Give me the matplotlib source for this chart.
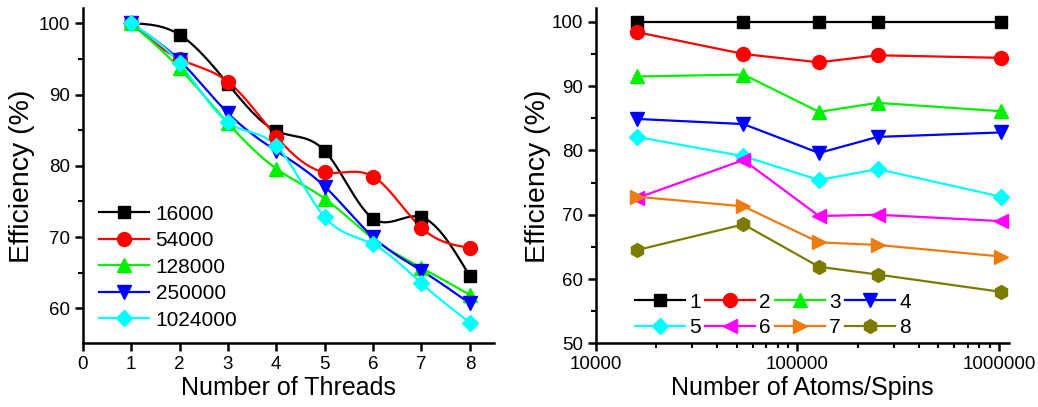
import numpy as np
import matplotlib
matplotlib.use("Agg")
import matplotlib.pyplot as plt
from matplotlib.ticker import MultipleLocator, LogLocator, NullFormatter, FixedLocator

plt.rcParams['font.family'] = ['Liberation Sans', 'DejaVu Sans']

threads = [1, 2, 3, 4, 5, 6, 7, 8]
atoms = [16000, 54000, 128000, 250000, 1024000]
atom_labels = ['16000', '54000', '128000', '250000', '1024000']

# efficiency (%) per system size, over 1..8 threads
eff_16000 = [100, 98.4, 91.5, 84.9, 82.1, 72.6, 72.8, 64.5]
eff_54000 = [100, 95.0, 91.8, 84.1, 79.1, 78.5, 71.3, 68.5]
eff_128000 = [100, 93.7, 86.0, 79.6, 75.4, 69.8, 65.7, 61.9]
eff_250000 = [100, 94.8, 87.4, 82.1, 77.1, 70.0, 65.3, 60.7]
eff_1024000 = [100, 94.4, 86.1, 82.8, 72.8, 69.0, 63.5, 58.0]
eff = [eff_16000, eff_54000, eff_128000, eff_250000, eff_1024000]

colors = ['#000000', '#ff0000', '#00f000', '#0000ff', '#00ffff', '#ff00ff', '#ee7b12', '#7b7b00']
markers = ['s', 'o', '^', 'v', 'D', '<', '>', 'h']
msizes = [9, 10, 10, 10, 8, 10, 10, 10]


def spline(x, y, n=200):
    # natural cubic spline, just for the smooth connecting line
    x = np.asarray(x, float)
    y = np.asarray(y, float)
    k = len(x)
    h = np.diff(x)
    A = np.zeros((k, k))
    b = np.zeros(k)
    A[0, 0] = A[-1, -1] = 1
    for i in range(1, k - 1):
        A[i, i - 1] = h[i - 1]
        A[i, i] = 2 * (h[i - 1] + h[i])
        A[i, i + 1] = h[i]
        b[i] = 3 * ((y[i + 1] - y[i]) / h[i] - (y[i] - y[i - 1]) / h[i - 1])
    c = np.linalg.solve(A, b)
    xs = np.linspace(x[0], x[-1], n)
    idx = np.clip(np.searchsorted(x, xs) - 1, 0, k - 2)
    dx = xs - x[idx]
    bb = (y[idx + 1] - y[idx]) / h[idx] - h[idx] * (2 * c[idx] + c[idx + 1]) / 3
    dd = (c[idx + 1] - c[idx]) / (3 * h[idx])
    ys = y[idx] + bb * dx + c[idx] * dx ** 2 + dd * dx ** 3
    return xs, ys


fig = plt.figure(figsize=(10.38, 4.07), dpi=100)
ax1 = fig.add_axes([0.0797, 0.1565, 0.3963, 0.823])
ax2 = fig.add_axes([0.574, 0.1565, 0.398, 0.823])

for ax in (ax1, ax2):
    ax.spines['top'].set_visible(False)
    ax.spines['right'].set_visible(False)
    for s in ('left', 'bottom'):
        ax.spines[s].set_linewidth(1.8)
    ax.tick_params(which='major', direction='out', length=6, width=1.8, labelsize=13.5, pad=3)
    ax.tick_params(which='minor', direction='out', length=3.5, width=1.5)
    ax.yaxis.set_major_locator(MultipleLocator(10))
    ax.yaxis.set_minor_locator(MultipleLocator(5))
ax1.set_ylabel('Efficiency (%)', fontsize=20.5, labelpad=3)
ax2.set_ylabel('Efficiency (%)', fontsize=20.5, labelpad=1)

# left: efficiency vs threads
handles = []
for i, row in enumerate(eff):
    xs, ys = spline(threads, row)
    ax1.plot(xs, ys, color=colors[i], lw=1.6, zorder=2)
    ax1.plot(threads, row, ls='none', marker=markers[i], ms=msizes[i], color=colors[i], zorder=3)
    h, = ax1.plot([], [], color=colors[i], lw=1.6, marker=markers[i], ms=msizes[i])
    handles.append(h)
ax1.set_xlim(0, 8.5)
ax1.set_ylim(55.1, 102.1)
ax1.xaxis.set_major_locator(FixedLocator(range(0, 9)))
ax1.set_xlabel('Number of Threads', fontsize=18, labelpad=2)
ax1.legend(handles, atom_labels, loc='upper left', bbox_to_anchor=(0.015, 0.445), frameon=False,
           fontsize=15, handlelength=2.4, handletextpad=0.3, labelspacing=0.36, borderpad=0)

# right: efficiency vs system size, one line per thread count
handles2 = []
for t in range(len(threads)):
    vals = [row[t] for row in eff]
    h, = ax2.plot(atoms, vals, color=colors[t], lw=1.6, marker=markers[t], ms=msizes[t])
    handles2.append(h)
ax2.set_xscale('log')
ax2.set_xlim(10000, 1.12e6)
ax2.set_ylim(50, 102.1)
ax2.xaxis.set_major_locator(FixedLocator([10000, 100000, 1000000]))
ax2.xaxis.set_major_formatter(plt.FuncFormatter(lambda v, p: '%d' % v))
ax2.xaxis.set_minor_locator(LogLocator(base=10, subs=np.arange(2, 10)))
ax2.xaxis.set_minor_formatter(NullFormatter())
ax2.set_xlabel('Number of Atoms/Spins', fontsize=18, labelpad=2)
order = [0, 4, 1, 5, 2, 6, 3, 7]
ax2.legend([handles2[k] for k in order], [str(threads[k]) for k in order], ncol=4,
           loc='lower left', bbox_to_anchor=(0.07, -0.013), frameon=False, fontsize=15,
           handlelength=2.4, handletextpad=0.2, columnspacing=0.2, labelspacing=0.32, borderpad=0)

fig.savefig('out.png', dpi=100)
